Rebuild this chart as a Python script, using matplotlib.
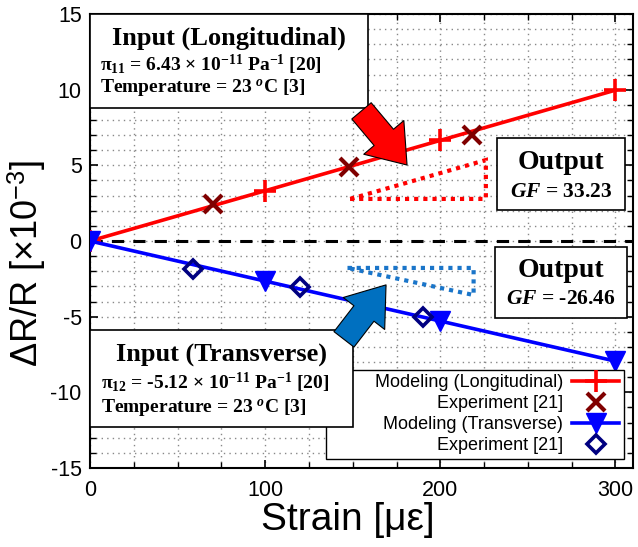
import matplotlib
matplotlib.use("Agg")
import matplotlib.pyplot as plt
from matplotlib.patches import Rectangle, FancyArrowPatch, Polygon
from matplotlib.ticker import MultipleLocator

plt.rcParams['font.family'] = ['Liberation Sans', 'DejaVu Sans']
plt.rcParams['axes.unicode_minus'] = False
plt.rcParams['mathtext.fontset'] = 'custom'
plt.rcParams['mathtext.rm'] = 'Liberation Serif:bold'
plt.rcParams['mathtext.it'] = 'Liberation Serif:italic:bold'
plt.rcParams['mathtext.bf'] = 'Liberation Serif:bold'
plt.rcParams['mathtext.sf'] = 'Liberation Sans'

# modeling lines (strain in microstrain, dR/R in 1e-3)
model_strain = [0, 100, 200, 300]
model_long = [0, 3.32, 6.65, 9.97]
model_trans = [0, -2.65, -5.29, -7.94]

# experiment [21]
exp_long_strain = [70, 148, 218]
exp_long = [2.45, 4.9, 7.0]
exp_trans_strain = [59, 120, 190]
exp_trans = [-1.85, -3.05, -5.0]

# slope triangles (data coords)
red_tri = [(148.6, 2.78), (226, 5.35), (226, 2.78)]
blue_tri = [(147, -1.78), (219, -1.78), (219, -3.57)]

fig = plt.figure(figsize=(6.38, 5.47), dpi=100)
ax = fig.add_axes([90/638, 1-468/547, 543/638, 454/547])

ax.set_xlim(0, 310)
ax.set_ylim(-15, 15)
ax.xaxis.set_major_locator(MultipleLocator(100))
ax.xaxis.set_minor_locator(MultipleLocator(25))
ax.yaxis.set_major_locator(MultipleLocator(5))
ax.yaxis.set_minor_locator(MultipleLocator(1))
ax.grid(which='both', linestyle=(0, (1, 3)), color='#888888', linewidth=1.0)
ax.tick_params(which='both', direction='in', top=True, right=True, labelsize=15.5)
ax.tick_params(which='major', length=6, width=1.2)
ax.tick_params(which='minor', length=4, width=1.0)
ax.tick_params(axis='x', pad=9)
ax.tick_params(axis='y', pad=6)
for s in ax.spines.values():
    s.set_linewidth(1.5)

ax.axhline(0, color='black', linestyle=(0, (4, 3)), linewidth=2.2, zorder=2)

l1, = ax.plot(model_strain, model_long, color='#ff0000', linewidth=2.6, marker='+',
              markersize=16, markeredgewidth=2.6, zorder=3, label='Modeling (Longitudinal)')
e1, = ax.plot(exp_long_strain, exp_long, linestyle='none', marker='x', color='#800000',
              markersize=13, markeredgewidth=3, zorder=4, label='Experiment [21]')
l2, = ax.plot(model_strain, model_trans, color='#0000ff', linewidth=2.6, marker='v',
              markersize=15, zorder=3, label='Modeling (Transverse)')
e2, = ax.plot(exp_trans_strain, exp_trans, linestyle='none', marker='D', color='#000080',
              markerfacecolor='none', markersize=9.5, markeredgewidth=2.6, zorder=4,
              label='Experiment [21]')

ax.add_patch(Polygon(red_tri, closed=True, fill=False, edgecolor='#ff0000', linewidth=3,
                     linestyle=(0, (1, 1.2)), zorder=3))
ax.add_patch(Polygon(blue_tri, closed=True, fill=False, edgecolor='#1a75c9', linewidth=3,
                     linestyle=(0, (1, 1.2)), zorder=3))

arrow_style = "simple,head_width=2.9,head_length=2.0,tail_width=1.4"
ax.add_patch(FancyArrowPatch((155, 8.6), (181, 5.02), arrowstyle=arrow_style, mutation_scale=13,
                             facecolor='#ff0000', edgecolor='black', linewidth=0.8,
                             shrinkA=0, shrinkB=0, zorder=8))
ax.add_patch(FancyArrowPatch((145, -6.5), (169, -2.9), arrowstyle=arrow_style, mutation_scale=13,
                             facecolor='#0070c0', edgecolor='black', linewidth=0.8,
                             shrinkA=0, shrinkB=0, zorder=8))

# text boxes
serif = ['Liberation Serif', 'DejaVu Serif']
def box(x0, y0, x1, y1):
    ax.add_patch(Rectangle((x0, y0), x1-x0, y1-y0, transform=ax.transAxes, facecolor='white',
                           edgecolor='black', linewidth=1.2, zorder=6, clip_on=False))

box(0, 0.793, 0.512, 1.0)
ax.text(0.256, 0.947, 'Input (Longitudinal)', transform=ax.transAxes, ha='center', va='center',
        family=serif, fontweight='bold', fontsize=19, zorder=7)
ax.text(0.018, 0.888, r'π$_{11}$ = 6.43 × 10$^{-11}$ Pa$^{-1}$ [20]', transform=ax.transAxes,
        ha='left', va='center', family=serif, fontweight='bold', fontsize=14, zorder=7)
ax.text(0.018, 0.836, 'Temperature = 23 $^{o}$C [3]', transform=ax.transAxes,
        ha='left', va='center', family=serif, fontweight='bold', fontsize=14, zorder=7)

box(0, 0.090, 0.484, 0.304)
ax.text(0.243, 0.249, 'Input (Transverse)', transform=ax.transAxes, ha='center', va='center',
        family=serif, fontweight='bold', fontsize=19, zorder=7)
ax.text(0.020, 0.187, r'π$_{12}$ = -5.12 × 10$^{-11}$ Pa$^{-1}$ [20]', transform=ax.transAxes,
        ha='left', va='center', family=serif, fontweight='bold', fontsize=14, zorder=7)
ax.text(0.020, 0.132, 'Temperature = 23 $^{o}$C [3]', transform=ax.transAxes,
        ha='left', va='center', family=serif, fontweight='bold', fontsize=14, zorder=7)

box(0.750, 0.568, 0.985, 0.727)
ax.text(0.868, 0.672, 'Output', transform=ax.transAxes, ha='center', va='center',
        family=serif, fontweight='bold', fontsize=20, zorder=7)
ax.text(0.868, 0.609, r'$\mathit{GF}$ = 33.23', transform=ax.transAxes, ha='center', va='center',
        family=serif, fontweight='bold', fontsize=15.5, zorder=7)

box(0.746, 0.330, 0.989, 0.487)
ax.text(0.868, 0.434, 'Output', transform=ax.transAxes, ha='center', va='center',
        family=serif, fontweight='bold', fontsize=20, zorder=7)
ax.text(0.868, 0.372, r'$\mathit{GF}$ = -26.46', transform=ax.transAxes, ha='center', va='center',
        family=serif, fontweight='bold', fontsize=15.5, zorder=7)

leg = ax.legend(handles=[l1, e1, l2, e2],
                labels=['         Modeling (Longitudinal)', 'Experiment [21]',
                        'Modeling (Transverse)', 'Experiment [21]'],
                loc='lower right', bbox_to_anchor=(0.983, 0.02), borderaxespad=0,
                markerfirst=False, fontsize=13, handlelength=2.6, labelspacing=0.22,
                borderpad=0.25, handletextpad=0.5, fancybox=False, framealpha=1,
                edgecolor='black')
leg.get_frame().set_linewidth(1.0)
leg.set_zorder(5)
leg._legend_handle_box.get_children()[0].align = 'right'

ax.set_xlabel('Strain [με]', fontsize=28)
ax.xaxis.set_label_coords(0.475, -0.075)
ax.set_ylabel(r'ΔR/R [×10$^{\mathsf{-3}}$]', fontsize=26)
ax.yaxis.set_label_coords(-0.077, 0.45)

fig.savefig('out.png', dpi=100)
